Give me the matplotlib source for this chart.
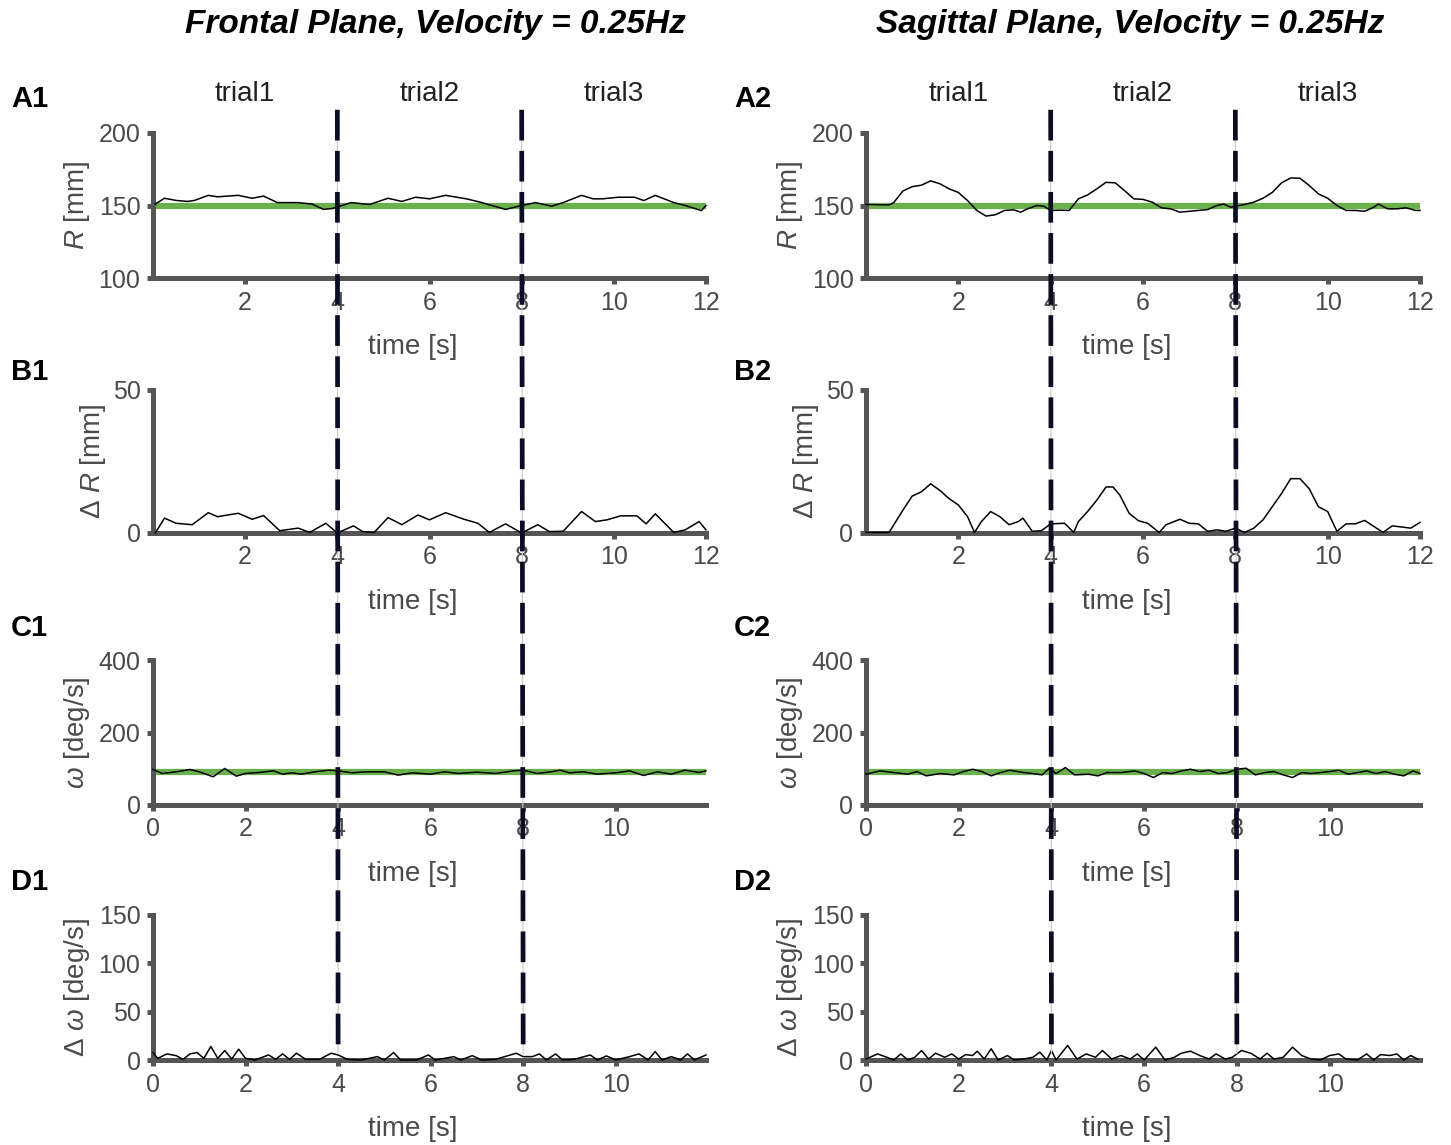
import numpy as np
import matplotlib
matplotlib.use('Agg')
import matplotlib.pyplot as plt
from matplotlib.patches import ConnectionPatch
from matplotlib.transforms import blended_transform_factory

plt.rcParams['font.family'] = ['Liberation Sans', 'DejaVu Sans']
plt.rcParams['mathtext.fontset'] = 'custom'
plt.rcParams['mathtext.rm'] = 'Liberation Sans'
plt.rcParams['mathtext.it'] = 'Liberation Sans:italic'
plt.rcParams['mathtext.bf'] = 'Liberation Sans:bold'

# ---- data ----
# frontal plane
a1_t = [0.05, 0.25, 0.5, 0.75, 0.9, 1.2, 1.4, 1.85, 2.15, 2.4, 2.7, 3.15, 3.45, 3.7, 3.9, 4.3, 4.7, 5.1, 5.4, 5.7,
        6.0, 6.35, 6.8, 7.1, 7.65, 8.0, 8.3, 8.65, 8.9, 9.3, 9.55, 9.75, 10.1, 10.45, 10.65, 10.9, 11.3, 11.55, 11.9, 12.0]
a1_R = [151, 155, 153.5, 152.8, 153.5, 157, 156, 157, 155, 156.5, 152, 152, 151, 147.3, 148, 152, 150.7, 155, 152.8, 155.7,
        154.6, 157, 154.6, 152.3, 147.3, 150, 152, 149.5, 152, 157, 154.6, 154.6, 155.7, 155.7, 153.4, 157, 152, 150, 146.5, 150]

b1_t = [0.05, 0.25, 0.5, 0.85, 1.2, 1.4, 1.85, 2.15, 2.4, 2.75, 3.15, 3.4, 3.75, 4.0, 4.35, 4.55, 4.8, 5.1, 5.4, 5.75,
        6.0, 6.35, 6.75, 7.05, 7.3, 7.65, 8.0, 8.35, 8.6, 8.9, 9.3, 9.6, 9.85, 10.15, 10.5, 10.7, 10.9, 11.3, 11.55, 11.85, 12.0]
b1_dR = [0, 5.2, 3.4, 2.9, 7.1, 5.7, 6.9, 4.8, 6.1, 0.8, 1.7, 0.2, 3.4, 0, 2.5, 0.5, 0.2, 5.4, 2.9, 6.3,
         4.6, 7.1, 4.8, 3.4, 0.2, 3.2, 0, 2.9, 0.5, 0.6, 7.5, 4, 4.6, 6, 6, 3.2, 6.7, 0.2, 1.1, 4, 1.1]

c1_t = [0, 0.2, 0.5, 0.8, 1.0, 1.3, 1.55, 1.8, 2.0, 2.3, 2.6, 2.8, 3.0, 3.2, 3.5, 3.8, 4.0, 4.3, 4.6, 5.0,
        5.3, 5.6, 6.0, 6.3, 6.6, 7.0, 7.4, 7.8, 8.0, 8.3, 8.6, 8.8, 9.0, 9.3, 9.6, 10.0, 10.3, 10.6, 10.9, 11.2,
        11.5, 11.8, 11.95]
c1_w = [97.9, 87, 91.5, 97.9, 91.5, 77.8, 100.7, 79.6, 87, 89.7, 94.3, 85.1, 88.8, 85.1, 91.5, 96.1, 94.3, 88.8, 91.5, 91.5,
        82.4, 88.8, 85.1, 91.5, 87, 90.6, 87, 94.3, 96.1, 87, 91.5, 96.1, 88.8, 91.5, 85.1, 88.8, 94.3, 81.5, 91.5, 85.1,
        96.1, 89.7, 94.3]

d1_t = [0, 0.1, 0.3, 0.5, 0.65, 0.8, 0.95, 1.1, 1.25, 1.4, 1.55, 1.7, 1.85, 2.0, 2.2, 2.5, 2.65, 2.8, 2.95, 3.1,
        3.3, 3.6, 3.85, 4.0, 4.2, 4.5, 4.85, 5.0, 5.2, 5.35, 5.7, 5.95, 6.1, 6.3, 6.5, 6.65, 6.9, 7.1, 7.4, 7.65,
        7.85, 8.0, 8.2, 8.35, 8.5, 8.7, 8.85, 9.1, 9.45, 9.6, 9.8, 10.0, 10.3, 10.5, 10.7, 10.85, 11.0, 11.2, 11.4, 11.55,
        11.7, 11.95]
d1_dw = [7.7, 1.7, 6.3, 4.5, 0.7, 6.3, 7.7, 1.7, 14, 1.7, 9.8, 1, 11.2, 1.7, 0, 5.2, 0.7, 6.3, 0.7, 7,
         0.7, 0.7, 7, 5.2, 0.7, 0, 3.5, 0, 7.7, 0, 0, 5.2, 0, 1.7, 3.5, 0, 4.5, 0, 0.7, 4.2,
         7, 3.5, 3.5, 6.3, 0, 6.3, 0, 0.7, 5.2, 0, 4.2, 0, 3.5, 6.3, 0, 8.7, 0, 3.5, 0, 6.3,
         0, 5.2]

# sagittal plane
a2_t = [0, 0.5, 0.6, 0.8, 1.0, 1.2, 1.4, 1.6, 1.8, 2.0, 2.2, 2.4, 2.6, 2.8, 3.0, 3.2, 3.35, 3.5, 3.7, 3.85,
        4.0, 4.2, 4.4, 4.6, 4.8, 5.0, 5.2, 5.4, 5.6, 5.8, 6.0, 6.2, 6.4, 6.6, 6.8, 7.0, 7.2, 7.4, 7.6, 7.75,
        7.9, 8.0, 8.2, 8.4, 8.6, 8.8, 9.0, 9.2, 9.4, 9.6, 9.8, 10.0, 10.2, 10.4, 10.6, 10.8, 11.0, 11.1, 11.3, 11.5,
        11.7, 11.9, 12.0]
a2_R = [150.7, 150.4, 152, 160, 163, 164, 167, 165, 161.5, 159, 153.4, 146.6, 142.7, 143.6, 146.6, 147, 145.4, 147.7, 150, 149.5,
        146.6, 146.8, 146.6, 154.6, 157.3, 161.5, 166, 165.6, 160.3, 154.6, 154.2, 152.3, 148.4, 147.7, 145.4, 146, 146.6, 147.2, 150, 151,
        148.8, 149.5, 150.7, 152.3, 155, 159, 165.6, 169, 168.8, 163.8, 158, 155, 150, 146.6, 146.6, 146, 148.8, 151, 147.7, 147.7,
        148.4, 146.6, 146.6]

b2_t = [0, 0.5, 0.8, 1.0, 1.2, 1.4, 1.6, 1.8, 2.0, 2.2, 2.35, 2.5, 2.7, 2.9, 3.1, 3.3, 3.4, 3.6, 3.8, 4.0,
        4.3, 4.5, 4.6, 4.8, 5.0, 5.2, 5.35, 5.5, 5.7, 5.9, 6.1, 6.35, 6.5, 6.8, 7.0, 7.2, 7.4, 7.6, 7.8, 8.0,
        8.2, 8.4, 8.6, 8.8, 9.0, 9.2, 9.4, 9.6, 9.8, 10.0, 10.2, 10.4, 10.6, 10.8, 11.0, 11.2, 11.4, 11.6, 11.8, 12.0]
b2_dR = [0.2, 0.2, 8, 12.9, 14.4, 17.2, 14.9, 12, 9.8, 5.7, 0.2, 4, 7.5, 5.7, 2.9, 4, 5.2, 0.6, 0.8, 3.2,
         3.4, 0.2, 4, 7.5, 11.5, 16.1, 16.1, 13.2, 6.9, 4.3, 3.4, 0.2, 2.9, 4.8, 3.4, 3.2, 0.6, 1.1, 0.6, 1.7,
         0.2, 1.7, 4.6, 9.2, 13.8, 19, 19, 15.5, 9.2, 7.5, 0.6, 3.2, 3.2, 4.4, 2.3, 0.2, 2.5, 2.1, 1.7, 3.7]

c2_t = [0, 0.3, 0.6, 0.9, 1.1, 1.3, 1.6, 1.9, 2.1, 2.3, 2.5, 2.7, 2.9, 3.1, 3.4, 3.6, 3.8, 3.95, 4.1, 4.3,
        4.5, 4.8, 5.0, 5.2, 5.5, 5.8, 6.0, 6.2, 6.4, 6.6, 6.8, 7.0, 7.2, 7.4, 7.6, 7.8, 8.0, 8.2, 8.4, 8.6,
        8.8, 9.0, 9.2, 9.4, 9.6, 9.8, 10.0, 10.2, 10.4, 10.6, 10.8, 11.0, 11.2, 11.4, 11.6, 11.8, 11.95]
c2_w = [85, 94, 89.5, 85, 92.2, 80.4, 86.8, 83.1, 92.2, 98.6, 92.2, 80.4, 89.5, 95.9, 89.5, 86.8, 83.1, 101.4, 86.8, 103.2,
        83.1, 85, 80.4, 89.5, 89.5, 94, 86.8, 75.8, 89.5, 86.8, 94, 98.6, 92.2, 95.9, 86.8, 89.5, 98.6, 101.4, 83.1, 89.5,
        92.2, 83.1, 75.8, 89.5, 86.8, 89.5, 92.2, 95.9, 85, 89.5, 94, 86.8, 92.2, 85, 80.4, 94, 86.8]

d2_t = [0, 0.25, 0.45, 0.6, 0.75, 0.9, 1.05, 1.2, 1.35, 1.5, 1.7, 1.85, 2.0, 2.15, 2.3, 2.4, 2.55, 2.7, 2.85, 3.05,
        3.2, 3.4, 3.6, 3.75, 3.9, 4.0, 4.1, 4.35, 4.55, 4.75, 4.95, 5.1, 5.3, 5.5, 5.7, 5.85, 6.0, 6.25, 6.45, 6.65,
        6.8, 7.0, 7.2, 7.4, 7.55, 7.75, 7.9, 8.1, 8.3, 8.5, 8.65, 8.8, 9.0, 9.2, 9.4, 9.6, 9.8, 10.0, 10.2, 10.35,
        10.6, 10.8, 10.95, 11.1, 11.3, 11.45, 11.6, 11.75, 11.9]
d2_dw = [1, 6.3, 2.8, 0, 6.3, 0, 2.8, 9.8, 1, 7, 2.8, 6.3, 1, 5.6, 4.6, 9.1, 1, 11.6, 0, 4.6,
         0, 1, 2.8, 8.1, 0, 9.8, 0, 15.1, 1, 6.3, 2.8, 9.8, 1, 4.6, 1, 6.3, 0, 13.3, 0, 2.8,
         7, 9.1, 4.6, 1, 6.3, 1, 2.8, 9.8, 7, 1, 7, 1, 2.8, 13.3, 4.6, 1, 0, 4.6, 6.3, 1,
         0, 6.3, 0, 5.6, 4.6, 6.3, 0, 4.6, 1]

R_target = 150
w_target = 90
trial_bounds = [4, 8]
trial_names = ['trial1', 'trial2', 'trial3']
trial_mid = [2, 6, 10]

col_titles = ['Frontal Plane, Velocity = 0.25Hz', 'Sagittal Plane, Velocity = 0.25Hz']
row_ylabels = ['$R$ [mm]', r'$\Delta$ $R$ [mm]', r'$\omega$ [deg/s]', r'$\Delta$ $\omega$ [deg/s]']
row_ylim = [(100, 200), (0, 50), (0, 400), (0, 150)]
row_yticks = [[100, 150, 200], [0, 50], [0, 200, 400], [0, 50, 100, 150]]
row_letters = ['A', 'B', 'C', 'D']

series = [
    [(a1_t, a1_R, R_target), (b1_t, b1_dR, None), (c1_t, c1_w, w_target), (d1_t, d1_dw, None)],
    [(a2_t, a2_R, R_target), (b2_t, b2_dR, None), (c2_t, c2_w, w_target), (d2_t, d2_dw, None)],
]

# ---- layout (pixels) ----
W, H = 1451, 1145
fig = plt.figure(figsize=(W / 100, H / 100), dpi=100)

gray = '#555555'
txtc = '#4a4a4a'
green = '#6ab04c'
dashc = '#0c0c24'

cols_px = [(153, 706), (866, 1420)]
rows_px = [(133, 278), (390, 533), (660, 805), (915, 1060)]
letter_y = [99, 372, 628, 882]
letter_x = [11, 734]
title_x = [435, 1130]


def box(x0, x1, top, bot):
    return fig.add_axes([x0 / W, 1 - bot / H, (x1 - x0) / W, (bot - top) / H])


for ci, (x0, x1) in enumerate(cols_px):
    axes = []
    for ri, (top, bot) in enumerate(rows_px):
        ax = box(x0, x1, top, bot)
        t, v, target = series[ci][ri]
        if target is not None:
            ax.axhline(target, color=green, lw=4.5, zorder=2)
        ax.plot(t, v, color='black', lw=1.1, zorder=3, clip_on=False)

        if ri < 2:
            ax.set_xlim(0, 12)
            ax.set_xticks([2, 4, 6, 8, 10, 12])
        else:
            ax.set_xlim(0, 11.95)
            ax.set_xticks([0, 2, 4, 6, 8, 10])
        ax.set_ylim(*row_ylim[ri])
        ax.set_yticks(row_yticks[ri])

        for s in ['top', 'right']:
            ax.spines[s].set_visible(False)
        for s in ['left', 'bottom']:
            ax.spines[s].set_linewidth(3.6)
            ax.spines[s].set_color(gray)
        ax.tick_params(direction='out', length=4, width=3.6, color=gray,
                       labelsize=18, labelcolor=txtc, pad=5)
        ax.patch.set_alpha(0)

        ax.set_xlabel('time [s]', fontsize=20, color=txtc)
        ax.xaxis.set_label_coords(0.47, -69 / (bot - top))
        ax.xaxis.label.set_va('center')
        ax.set_ylabel(row_ylabels[ri], fontsize=20, color=txtc)
        off = -60 if ri == 1 else -76
        ax.yaxis.set_label_coords(off / (x1 - x0), 0.5)
        ax.yaxis.label.set_va('center')

        fig.text(letter_x[ci] / W, 1 - letter_y[ri] / H, row_letters[ri] + str(ci + 1),
                 fontsize=21, weight='bold', ha='left', va='center', color='black')
        axes.append(ax)

    axA, axD = axes[0], axes[-1]
    trA = blended_transform_factory(axA.transData, axA.transAxes)
    for m, name in zip(trial_mid, trial_names):
        axA.text(m, 1.27, name, transform=trA, ha='center', va='center',
                 fontsize=20, color='#222222')

    trD = blended_transform_factory(axD.transData, axD.transAxes)
    for b in trial_bounds:
        for ls, lw, c in [('-', 0.8, '#c8c8c8'), ((0, (6.5, 2.2)), 3.4, dashc)]:
            con = ConnectionPatch(xyA=(b, 1.16), coordsA=trA, xyB=(b, 0.04), coordsB=trD,
                                  color=c, lw=lw, linestyle=ls, zorder=10)
            con.set_capstyle('butt')
            fig.add_artist(con)

    fig.text(title_x[ci] / W, 1 - 25 / H, col_titles[ci], fontsize=24, weight='bold',
             style='italic', ha='center', va='center', color='black')

fig.savefig('out.png', dpi=100)
